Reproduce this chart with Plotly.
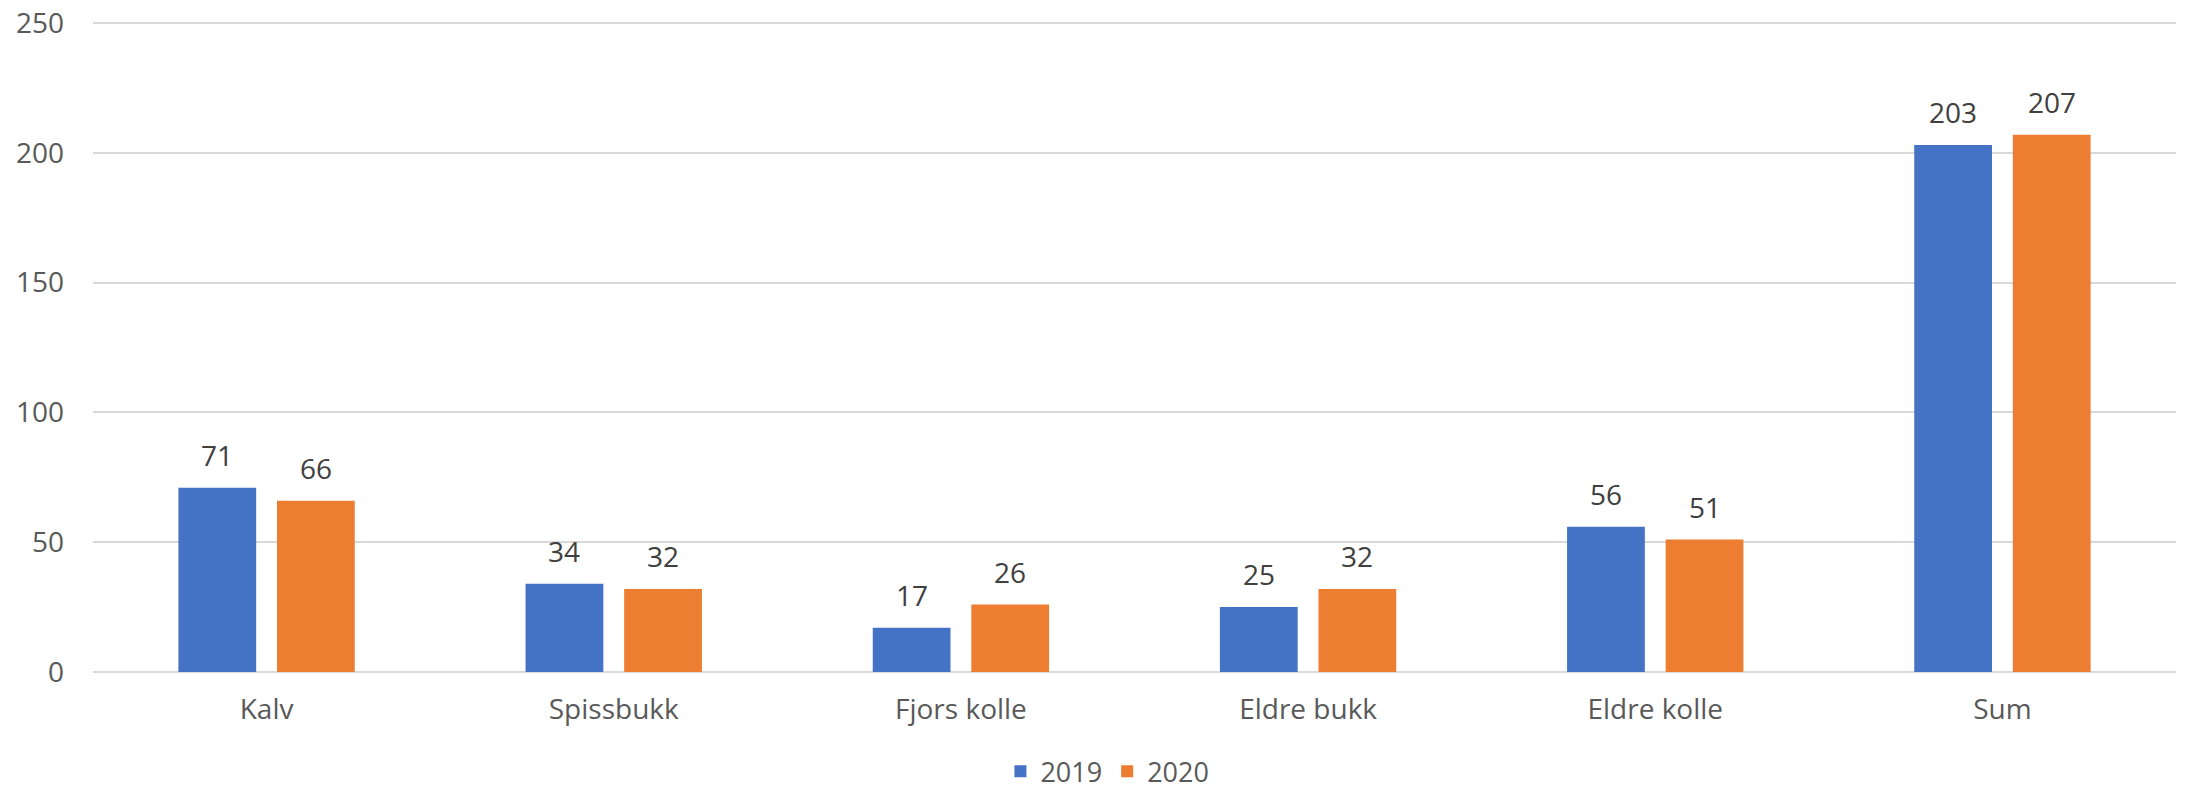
import plotly.graph_objects as go

categories = ["Kalv", "Spissbukk", "Fjors kolle", "Eldre bukk", "Eldre kolle", "Sum"]
series_names = ["2019", "2020"]
values_2019 = [71, 34, 17, 25, 56, 203]
values_2020 = [66, 32, 26, 32, 51, 207]
y_ticks = [0, 50, 100, 150, 200, 250]

colors = ["#4472C4", "#ED7D31"]
offsets = [-0.142, 0.142]
bar_width = 0.224
font_family = "Open Sans, Noto Sans, sans-serif"

fig = go.Figure()
idx = list(range(len(categories)))
annotations = []
for name, vals, col, off in zip(series_names, [values_2019, values_2020], colors, offsets):
    xs = [i + off for i in idx]
    fig.add_trace(go.Bar(
        x=xs, y=vals, name=name, width=bar_width,
        marker=dict(color=col, line=dict(width=0)),
        hoverinfo="y",
    ))
    for x, v in zip(xs, vals):
        annotations.append(dict(
            x=x, y=v, xref="x", yref="y", text=str(v), showarrow=False,
            yanchor="bottom", yshift=12,
            font=dict(family=font_family, size=28, color="#404040"),
        ))

# page body has an 8px default margin; size the figure to fit the window
fig.update_layout(
    width=2180, height=781,
    margin=dict(l=85, r=12, t=13, b=117, autoexpand=False),
    plot_bgcolor="white", paper_bgcolor="white",
    showlegend=True,
    legend=dict(orientation="h", x=0.487, xanchor="center",
                y=-0.153, yanchor="middle",
                font=dict(family=font_family, size=27, color="#595959"),
                itemwidth=30, tracegroupgap=0),
    annotations=annotations,
    font=dict(family=font_family, size=28, color="#595959"),
)
fig.update_xaxes(
    range=[-0.5, len(categories) - 0.5],
    tickvals=idx, ticktext=categories,
    showgrid=False, zeroline=False, showline=False, ticks="",
    ticklabelstandoff=18, automargin=False, ticklabeloverflow="allow",
    tickfont=dict(family=font_family, size=28, color="#595959"),
)
fig.update_yaxes(
    range=[0, 250.8], tickvals=y_ticks,
    showgrid=True, gridcolor="#D9D9D9", gridwidth=1.5,
    zeroline=True, zerolinecolor="#D9D9D9", zerolinewidth=1.5,
    showline=False, ticks="", ticklabelstandoff=28, automargin=False,
    ticklabeloverflow="allow",
    tickfont=dict(family=font_family, size=28, color="#595959"),
)

fig.write_html("out.html")
